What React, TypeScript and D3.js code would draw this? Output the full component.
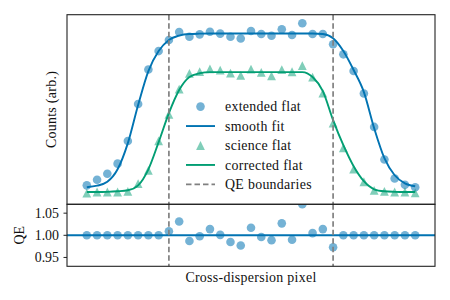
import React from "react";
import * as d3 from "d3";

const pixels: number[] = d3.range(0, 33);
const extendedFlat: number[] = [
  0.111, 0.144, 0.179, 0.238, 0.371, 0.587, 0.789, 0.897, 0.962, 1.009,
  0.981, 0.995, 1.01, 0.999, 0.981, 0.971, 1.015, 0.997, 0.987, 1.025,
  0.991, 1.06, 0.997, 0.997, 0.937, 0.878, 0.78, 0.649, 0.453, 0.262,
  0.151, 0.114, 0.1,
];
const smoothFit: number[] = [
  0.1, 0.109, 0.132, 0.205, 0.358, 0.581, 0.78, 0.897, 0.962, 0.988,
  0.997, 0.999, 1.0, 1.0, 1.0, 1.0, 1.0, 1.0, 1.0, 1.0,
  1.0, 1.0, 1.0, 0.997, 0.972, 0.897, 0.786, 0.657, 0.446, 0.27,
  0.17, 0.123, 0.106,
];
const scienceFlat: number[] = [
  0.066, 0.072, 0.072, 0.072, 0.076, 0.121, 0.199, 0.371, 0.526, 0.674,
  0.767, 0.777, 0.793, 0.786, 0.768, 0.755, 0.791, 0.772, 0.752, 0.788,
  0.776, 0.812, 0.745, 0.651, 0.475, 0.33, 0.206, 0.132, 0.082, 0.076,
  0.072, 0.072, 0.067,
];
const correctedFlat: number[] = [
  0.072, 0.072, 0.073, 0.076, 0.082, 0.111, 0.205, 0.364, 0.534, 0.669,
  0.745, 0.767, 0.774, 0.774, 0.774, 0.774, 0.774, 0.774, 0.774, 0.774,
  0.774, 0.774, 0.745, 0.663, 0.493, 0.346, 0.223, 0.135, 0.088, 0.076,
  0.073, 0.072, 0.072,
];
const qe: number[] = [
  1.0, 1.0, 1.0, 1.0, 1.0, 1.0, 1.0, 1.0, 1.009, 1.031,
  0.987, 0.998, 1.014, 1.001, 0.985, 0.977, 1.017, 0.996, 0.989, 1.027,
  0.99, 1.07, 1.005, 1.014, 0.973, 1.0, 1.0, 1.0, 1.0, 1.0,
  1.0, 1.0, 1.0,
];
const qeBoundaries: number[] = [8, 24];
const qeTicks: number[] = [0.95, 1.0, 1.05];
const legendLabels: string[] = [
  "extended flat",
  "smooth fit",
  "science flat",
  "corrected flat",
  "QE boundaries",
];

const BLUE = "#0173b2";
const GREEN = "#029e73";
const GRAY = "#808080";
const FONT = '"Liberation Serif", "DejaVu Serif", "Times New Roman", serif';
const TXT: React.CSSProperties = { fontFamily: FONT };

const L = 67;
const R = 435;
const TOP_T = 14.7;
const TOP_B = 204.3;
const BOT_T = 204.3;
const BOT_B = 266.3;

const tri = (cx: number, cy: number, r: number) =>
  `M${cx},${cy - r}L${cx - r},${cy + r}L${cx + r},${cy + r}Z`;

export default function App() {
  const x = d3.scaleLinear().domain([-1.93, 33.93]).range([L, R]);
  const yTop = d3.scaleLinear().domain([0, 1.11]).range([TOP_B, TOP_T]);
  const yBot = d3.scaleLinear().domain([0.93, 1.07]).range([BOT_B, BOT_T]);

  const lineTop = d3
    .line<number>()
    .x((_, i) => x(pixels[i]))
    .y((d) => yTop(d))
    .curve(d3.curveMonotoneX);

  const legX = 186;
  const legY0 = 106.6;
  const legDy = 19.45;

  return (
    <svg
      width={450}
      height={300}
      style={{ position: "absolute", left: 0, top: 0, background: "#fff", fontFamily: FONT }}
    >
      <defs>
        <clipPath id="clipTop">
          <rect x={L} y={TOP_T} width={R - L} height={TOP_B - TOP_T} />
        </clipPath>
        <clipPath id="clipBot">
          <rect x={L} y={BOT_T} width={R - L} height={BOT_B - BOT_T} />
        </clipPath>
      </defs>
      <rect width={450} height={300} fill="#fff" />

      {/* Top panel */}
      <g clipPath="url(#clipTop)">
        {extendedFlat.map((v, i) => (
          <circle key={"e" + i} cx={x(pixels[i])} cy={yTop(v)} r={4.3} fill={BLUE} fillOpacity={0.55} />
        ))}
        <path d={lineTop(smoothFit) || ""} fill="none" stroke={BLUE} strokeWidth={1.9} />
        {scienceFlat.map((v, i) => (
          <path key={"s" + i} d={tri(x(pixels[i]), yTop(v), 4.4)} fill={GREEN} fillOpacity={0.5} />
        ))}
        <path d={lineTop(correctedFlat) || ""} fill="none" stroke={GREEN} strokeWidth={1.9} />
        {qeBoundaries.map((b) => (
          <line key={"bt" + b} x1={x(b)} x2={x(b)} y1={TOP_T} y2={TOP_B} stroke={GRAY} strokeWidth={1.7} strokeDasharray="5.5,3" />
        ))}
      </g>

      {/* Legend */}
      <g fontSize={13.9} fill="#111">
        {legendLabels.map((lab, i) => {
          const cy = legY0 + i * legDy;
          let handle: React.ReactNode = null;
          if (i === 0) handle = <circle cx={legX + 14.5} cy={cy} r={4.3} fill={BLUE} fillOpacity={0.55} />;
          if (i === 1) handle = <line x1={legX} x2={legX + 29} y1={cy} y2={cy} stroke={BLUE} strokeWidth={1.9} />;
          if (i === 2) handle = <path d={tri(legX + 14.5, cy, 4.4)} fill={GREEN} fillOpacity={0.5} />;
          if (i === 3) handle = <line x1={legX} x2={legX + 29} y1={cy} y2={cy} stroke={GREEN} strokeWidth={1.9} />;
          if (i === 4) handle = <line x1={legX} x2={legX + 29} y1={cy} y2={cy} stroke={GRAY} strokeWidth={1.7} strokeDasharray="5.5,3" />;
          return (
            <g key={lab}>
              {handle}
              <text x={225} y={cy} dy="0.33em" style={TXT} letterSpacing={0.3}>
                {lab}
              </text>
            </g>
          );
        })}
      </g>

      {/* Bottom panel */}
      <g clipPath="url(#clipBot)">
        <line x1={L} x2={R} y1={yBot(1)} y2={yBot(1)} stroke={BLUE} strokeWidth={1.9} />
        {qe.map((v, i) => (
          <circle key={"q" + i} cx={x(pixels[i])} cy={yBot(v)} r={4.3} fill={BLUE} fillOpacity={0.55} />
        ))}
        {qeBoundaries.map((b) => (
          <line key={"bb" + b} x1={x(b)} x2={x(b)} y1={BOT_T} y2={BOT_B} stroke={GRAY} strokeWidth={1.7} strokeDasharray="5.5,3" />
        ))}
      </g>

      {/* Bottom ticks */}
      <g fontSize={13.9} fill="#111">
        {qeTicks.map((t) => (
          <g key={"t" + t}>
            <line x1={L - 3.5} x2={L} y1={yBot(t)} y2={yBot(t)} stroke="#222" strokeWidth={1} />
            <text x={L - 8} y={yBot(t)} dy="0.33em" textAnchor="end" style={TXT}>
              {d3.format(".2f")(t)}
            </text>
          </g>
        ))}
      </g>

      {/* Spines */}
      <rect x={L} y={TOP_T} width={R - L} height={TOP_B - TOP_T} fill="none" stroke="#222" strokeWidth={1.1} />
      <rect x={L} y={BOT_T} width={R - L} height={BOT_B - BOT_T} fill="none" stroke="#222" strokeWidth={1.1} />

      {/* Axis labels */}
      <text x={(L + R) / 2} y={277.7} dy="0.33em" textAnchor="middle" fontSize={13.9} fill="#111" letterSpacing={0.3} style={TXT}>
        Cross-dispersion pixel
      </text>
      <text transform={`translate(51.7,${(TOP_T + TOP_B) / 2}) rotate(-90)`} dy="0.33em" textAnchor="middle" fontSize={13.9} fill="#111" letterSpacing={0.3} style={TXT}>
        Counts (arb.)
      </text>
      <text transform={`translate(19,${yBot(1)}) rotate(-90)`} dy="0.33em" textAnchor="middle" fontSize={13.9} fill="#111" style={TXT}>
        QE
      </text>
    </svg>
  );
}
